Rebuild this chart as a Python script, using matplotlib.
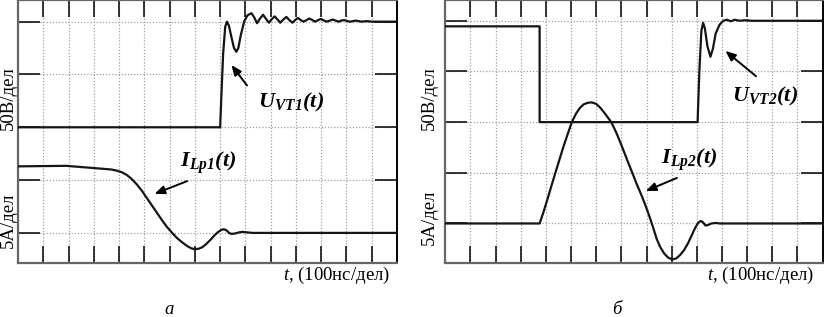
import matplotlib
matplotlib.use('Agg')
import matplotlib.pyplot as plt

plt.rcParams['font.family'] = ['Liberation Serif', 'DejaVu Serif']
plt.rcParams['mathtext.fontset'] = 'custom'
plt.rcParams['mathtext.bf'] = 'Liberation Serif:italic:bold'
plt.rcParams['mathtext.rm'] = 'Liberation Serif'
plt.rcParams['mathtext.it'] = 'Liberation Serif:italic'

# time in divisions (100 ns/div), levels in screen divisions
u1_t = [0, 8.0, 8.05, 8.12, 8.2, 8.27, 8.35, 8.45, 8.55, 8.64, 8.72, 8.82, 8.95,
        9.08, 9.24, 9.35, 9.46, 9.58, 9.70, 9.82, 9.93, 10.05, 10.16, 10.27,
        10.38, 10.5, 10.62, 10.74, 10.86, 10.97, 11.08, 11.19, 11.30, 11.42,
        11.53, 11.65, 11.76, 11.88, 11.99, 12.11, 12.22, 12.34, 12.45, 12.57,
        12.68, 12.8, 12.91, 13.03, 13.14, 13.26, 13.37, 13.6, 13.8, 14.0, 15.0]
u1_v = [2.0, 2.0, 2.6, 3.4, 3.9, 4.0, 3.92, 3.7, 3.5, 3.43, 3.5, 3.75, 4.0,
        4.12, 4.16, 4.08, 3.97, 4.06, 4.13, 4.05, 3.98, 4.05, 4.10, 4.04,
        3.98, 4.04, 4.09, 4.03, 3.98, 4.03, 4.07, 4.03, 4.0, 4.03, 4.06,
        4.03, 4.0, 4.03, 4.05, 4.02, 4.0, 4.02, 4.04, 4.02, 4.0, 4.02,
        4.03, 4.01, 4.0, 4.01, 4.02, 4.0, 4.01, 4.0, 4.0]

i1_t = [0, 1.9, 3.2, 3.7, 3.9, 4.1, 4.3, 4.5, 4.7, 4.9, 5.1, 5.3, 5.5, 5.7,
        5.9, 6.1, 6.3, 6.5, 6.7, 6.85, 7.0, 7.15, 7.3, 7.45, 7.6, 7.75, 7.9,
        8.02, 8.14, 8.25, 8.35, 8.45, 8.6, 8.75, 8.9, 9.05, 9.3, 15.0]
i1_v = [1.26, 1.27, 1.22, 1.2, 1.18, 1.15, 1.10, 1.02, 0.92, 0.80, 0.66, 0.52,
        0.38, 0.24, 0.11, 0.0, -0.10, -0.18, -0.25, -0.29, -0.31, -0.30, -0.27,
        -0.21, -0.14, -0.06, 0.01, 0.05, 0.07, 0.05, 0.0, -0.02, -0.01, 0.01,
        0.02, 0.01, 0.0, 0.0]

u2_t = [0, 3.75, 3.75, 10.03, 10.1, 10.18, 10.25, 10.32, 10.42, 10.54, 10.64,
        10.75, 10.9, 11.05, 11.2, 11.35, 11.5, 11.7, 11.9, 12.2, 15.0]
u2_v = [3.89, 3.89, 2.0, 2.0, 3.0, 3.8, 3.96, 3.85, 3.5, 3.29, 3.45, 3.75,
        3.92, 4.0, 4.02, 3.99, 4.02, 4.0, 4.01, 4.0, 4.0]

i2_t = [0, 3.75, 3.9, 4.05, 4.2, 4.37, 4.55, 4.7, 4.87, 5.03, 5.2, 5.35, 5.5,
        5.65, 5.82, 6.0, 6.15, 6.3, 6.45, 6.61, 6.8, 6.95, 7.1, 7.28, 7.45,
        7.6, 7.78, 7.94, 8.1, 8.25, 8.4, 8.55, 8.7, 8.85, 9.02, 9.18, 9.34,
        9.5, 9.66, 9.8, 9.93, 10.06, 10.16, 10.25, 10.34, 10.45, 10.58, 10.75,
        10.9, 15.0]
i2_v = [0, 0, 0.22, 0.46, 0.71, 0.99, 1.28, 1.52, 1.77, 2.0, 2.17, 2.28, 2.35,
        2.38, 2.39, 2.36, 2.29, 2.2, 2.1, 1.99, 1.79, 1.61, 1.42, 1.19, 0.98,
        0.79, 0.58, 0.38, 0.16, -0.06, -0.30, -0.47, -0.59, -0.67, -0.71,
        -0.69, -0.62, -0.52, -0.38, -0.23, -0.09, 0.02, 0.05, 0.02, -0.04,
        -0.03, 0.0, 0.01, 0.0, 0.0]

panels = [
    dict(rect=[18 / 824, 54 / 317, 379 / 824, 263 / 317], ylim=(-0.57, 4.41),
         traces=[(u1_t, u1_v), (i1_t, i1_v)],
         u_label=r'$\mathbf{U_{VT1}(t)}$', u_xy=(10.79, 2.46),
         u_tail=(9.13, 2.75), u_head=(8.38, 3.22),
         i_label=r'$\mathbf{I_{Lp1}(t)}$', i_xy=(7.51, 1.33),
         i_tail=(6.80, 1.0), i_head=(5.30, 0.72),
         ylab_x=8, ylab_y=(98, 220), tlab_x=390, letter='а', letter_x=169),
    dict(rect=[445.3 / 824, 54 / 317, 377.3 / 824, 263 / 317], ylim=(-0.78, 4.41),
         traces=[(u2_t, u2_v), (i2_t, i2_v)],
         u_label=r'$\mathbf{U_{VT2}(t)}$', u_xy=(12.73, 2.50),
         u_tail=(12.44, 2.87), u_head=(11.05, 3.44),
         i_label=r'$\mathbf{I_{Lp2}(t)}$', i_xy=(9.71, 1.25),
         i_tail=(9.31, 0.92), i_head=(7.87, 0.62),
         ylab_x=429, ylab_y=(98, 217), tlab_x=814, letter='б', letter_x=617),
]

fig = plt.figure(figsize=(8.24, 3.17), dpi=100)

for p in panels:
    ax = fig.add_axes(p['rect'])
    ax.set_xlim(0, 15)
    ax.set_ylim(*p['ylim'])
    ax.set_xticks(range(1, 15))
    ax.set_yticks(range(0, 5))
    ax.set_xticklabels([])
    ax.set_yticklabels([])
    ax.grid(True, color='#a0a0a0', linestyle=(0, (1, 1.5)), linewidth=0.9)
    ax.set_axisbelow(True)
    ax.tick_params(axis='x', which='both', direction='in', length=12, width=1.1,
                   color='black', top=True, bottom=True)
    ax.tick_params(axis='y', which='both', direction='in', length=16, width=1.1,
                   color='black', left=True, right=True)
    for side in ['left', 'top', 'bottom']:
        ax.spines[side].set_color('#666666')
        ax.spines[side].set_linewidth(1.6)
    ax.spines['right'].set_color('black')
    ax.spines['right'].set_linewidth(1.4)

    for t, v in p['traces']:
        ax.plot(t, v, color='#151515', linewidth=1.6, solid_joinstyle='round',
                zorder=3)

    for key in ['u', 'i']:
        ax.text(*p[key + '_xy'], p[key + '_label'], fontsize=16,
                ha='center', va='center', zorder=4)
        ax.annotate('', xy=p[key + '_head'], xytext=p[key + '_tail'],
                    arrowprops=dict(arrowstyle='-|>,head_length=0.6,head_width=0.25',
                                    color='black', lw=1.4), zorder=4)

    fig.text(p['ylab_x'] / 824, 1 - p['ylab_y'][0] / 317, '50В/дел', rotation=90,
             ha='center', va='center', fontsize=13.5)
    fig.text(p['ylab_x'] / 824, 1 - p['ylab_y'][1] / 317, '5А/дел', rotation=90,
             ha='center', va='center', fontsize=13.5)
    fig.text(p['tlab_x'] / 824, 1 - 275 / 317, r'$\mathit{t}$, (100нс/дел)',
             ha='right', va='center', fontsize=13.5)
    fig.text(p['letter_x'] / 824, 1 - 309 / 317, p['letter'], style='italic',
             ha='center', va='center', fontsize=13.5)

fig.savefig('out.png', dpi=100)
